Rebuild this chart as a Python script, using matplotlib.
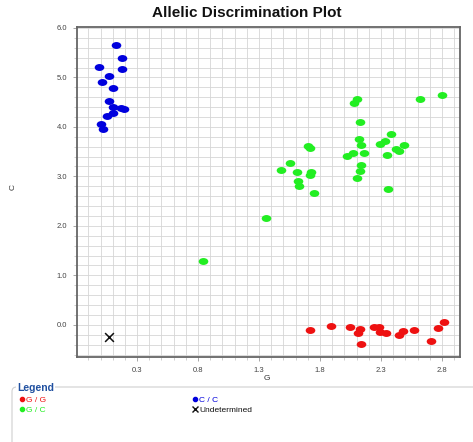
import numpy as np
import matplotlib
matplotlib.use("Agg")
import matplotlib.pyplot as plt
from matplotlib.path import Path
from matplotlib.transforms import Affine2D
from matplotlib.lines import Line2D
from matplotlib.patches import FancyBboxPatch
from matplotlib.ticker import MultipleLocator, FixedLocator, FormatStrFormatter

plt.rcParams['font.family'] = ['Liberation Sans', 'DejaVu Sans']

# ---- data ----
cc_x = [0.128, 0.18, 0.18, -0.01, 0.07, 0.013, 0.10, 0.07, 0.106, 0.17, 0.19, 0.10, 0.057, 0.0, 0.019]
cc_y = [5.65, 5.39, 5.18, 5.22, 5.02, 4.91, 4.79, 4.52, 4.41, 4.38, 4.37, 4.29, 4.23, 4.05, 3.96]

gc_x = [2.80, 2.62, 2.10, 2.08, 2.13, 2.38, 2.12, 2.33, 2.29, 2.14, 2.49, 2.42, 2.45,
        1.70, 1.72, 2.07, 2.16, 2.02, 2.35, 1.55, 1.48, 1.61, 1.73, 1.72, 2.14, 2.13,
        2.10, 1.62, 1.63, 1.75, 2.36, 1.36, 0.84]
gc_y = [4.65, 4.57, 4.56, 4.48, 4.09, 3.86, 3.75, 3.71, 3.65, 3.63, 3.63, 3.55, 3.52,
        3.62, 3.58, 3.48, 3.47, 3.41, 3.43, 3.27, 3.12, 3.09, 3.08, 3.03, 3.23, 3.11,
        2.97, 2.90, 2.80, 2.67, 2.74, 2.16, 1.29]

gg_x = [1.72, 1.89, 2.05, 2.13, 2.11, 2.14, 2.24, 2.28, 2.29, 2.34, 2.45, 2.48, 2.57, 2.71, 2.77, 2.82]
gg_y = [-0.11, -0.02, -0.05, -0.08, -0.17, -0.39, -0.04, -0.05, -0.15, -0.17, -0.21, -0.13, -0.11, -0.33, -0.06, 0.06]

und_x = [0.07]
und_y = [-0.24]

x_ticks = [0.3, 0.8, 1.3, 1.8, 2.3, 2.8]
y_ticks = [0.0, 1.0, 2.0, 3.0, 4.0, 5.0, 6.0]

RED = '#ee1111'
GREEN = '#22ee22'
BLUE = '#0000dd'

# ellipse marker (wider than tall)
ell = Path.unit_circle().transformed(Affine2D().scale(1.0, 0.72))

fig = plt.figure(figsize=(4.73, 4.42), dpi=100)
ax = fig.add_axes([0.163, 0.1923, 0.8095, 0.7467])

ax.scatter(cc_x, cc_y, s=48, marker=ell, color=BLUE, linewidths=0, zorder=3)
ax.scatter(gc_x, gc_y, s=48, marker=ell, color=GREEN, linewidths=0, zorder=3)
ax.scatter(gg_x, gg_y, s=48, marker=ell, color=RED, linewidths=0, zorder=3)
ax.scatter(und_x, und_y, s=40, marker='x', color='#111111', linewidths=1.1, zorder=3)

ax.set_xlim(-0.192, 2.948)
ax.set_ylim(-0.65, 6.02)

ax.xaxis.set_major_locator(FixedLocator(x_ticks))
ax.xaxis.set_minor_locator(MultipleLocator(0.1))
ax.yaxis.set_major_locator(FixedLocator(y_ticks))
ax.yaxis.set_minor_locator(MultipleLocator(0.2))
ax.xaxis.set_major_formatter(FormatStrFormatter('%.1f'))
ax.yaxis.set_major_formatter(FormatStrFormatter('%.1f'))

ax.grid(which='both', color='#d6d6d6', linewidth=0.6)
ax.set_axisbelow(True)
ax.tick_params(which='major', length=3, width=0.6, color='#999999', labelsize=5.5,
               labelcolor='#444444', pad=4)
ax.tick_params(which='minor', length=2.5, width=0.5, color='#bbbbbb')
for s in ax.spines.values():
    s.set_color('#666666')
    s.set_linewidth(1.3)

ax.set_xlabel('G', fontsize=6, color='#333333')
ax.set_ylabel('C', fontsize=6, color='#333333')
ax.xaxis.set_label_coords(0.496, -0.055)
ax.yaxis.set_label_coords(-0.159, 0.515)

fig.text(0.522, 0.971, 'Allelic Discrimination Plot', ha='center', va='center',
         fontsize=11, fontweight='bold', color='#111111')

# legend frame
frame = FancyBboxPatch((12 / 473, -0.05), 1.0, (442 - 387) / 442 + 0.05,
                       boxstyle='round,pad=0,rounding_size=0.01',
                       transform=fig.transFigure, facecolor='none',
                       edgecolor='#d0d0d0', linewidth=0.8, zorder=1)
fig.patches.append(frame)
fig.text(17 / 473, 1 - 388 / 442, 'Legend', ha='left', va='center', fontsize=7.5,
         fontweight='bold', color='#2050a0',
         bbox=dict(facecolor='white', edgecolor='none', pad=0.5), zorder=2)

handles = [
    Line2D([], [], marker='o', linestyle='none', color=RED, markersize=3),
    Line2D([], [], marker='o', linestyle='none', color=GREEN, markersize=3),
    Line2D([], [], marker='o', linestyle='none', color=BLUE, markersize=3),
    Line2D([], [], marker='x', linestyle='none', color='#111111', markersize=5, markeredgewidth=1),
]
labels = ['G / G', 'G / C', 'C / C', 'Undetermined']
leg = fig.legend(handles, labels, ncol=2, loc='upper left',
                 bbox_to_anchor=(16 / 473, 1 - 393 / 442), frameon=False,
                 fontsize=6, handlelength=0.6, handletextpad=0.2,
                 columnspacing=17.6, labelspacing=0.25, borderaxespad=0,
                 labelcolor=[RED, GREEN, BLUE, '#111111'])

fig.savefig('out.png', dpi=100)
